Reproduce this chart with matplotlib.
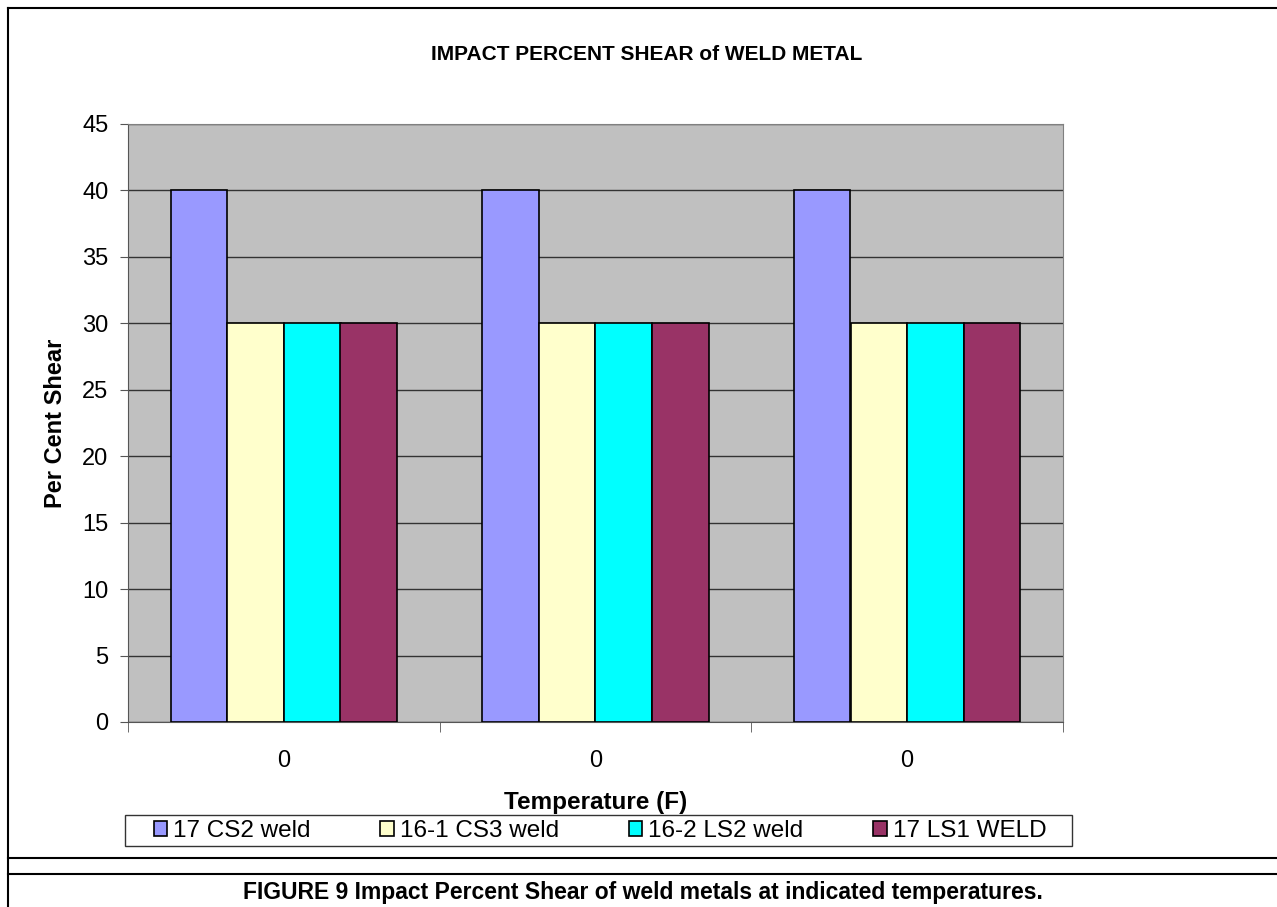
import numpy as np
import matplotlib
matplotlib.use("Agg")
import matplotlib.pyplot as plt
from matplotlib.lines import Line2D
from matplotlib.patches import Rectangle

plt.rcParams['font.family'] = ['Liberation Sans', 'DejaVu Sans']

# data
categories = ["0", "0", "0"]
series_names = ["17 CS2 weld", "16-1 CS3 weld", "16-2 LS2 weld", "17 LS1 WELD"]
cs2_17 = [40, 40, 40]
cs3_16_1 = [30, 30, 30]
ls2_16_2 = [30, 30, 30]
ls1_17 = [30, 30, 30]
colors = ["#9999FF", "#FFFFCC", "#00FFFF", "#993366"]

W, H = 1277, 907
fig = plt.figure(figsize=(W / 100, H / 100), dpi=100)

# outer frame / caption rules
fig.add_artist(Line2D([8 / W, 1], [1 - 8 / H, 1 - 8 / H], color='black', lw=1.5))
fig.add_artist(Line2D([8 / W, 8 / W], [0, 1 - 8 / H], color='black', lw=1.5))
fig.add_artist(Line2D([8 / W, 1], [1 - 858 / H, 1 - 858 / H], color='black', lw=1.5))
fig.add_artist(Line2D([8 / W, 1], [1 - 874 / H, 1 - 874 / H], color='black', lw=1.5))

ax = fig.add_axes([128 / W, (H - 722) / H, 935 / W, 598 / H])
ax.set_facecolor('#C0C0C0')

n = len(series_names)
bw = 1 / (n + 1.5)
x = np.arange(len(categories))
all_series = [cs2_17, cs3_16_1, ls2_16_2, ls1_17]
for i, vals in enumerate(all_series):
    ax.bar(x + (i - (n - 1) / 2) * bw, vals, width=bw, color=colors[i],
           edgecolor='black', linewidth=1.2, label=series_names[i], zorder=3)

ax.set_xlim(-0.5, len(categories) - 0.5)
ax.set_ylim(0, 45)
ax.set_yticks(np.arange(0, 46, 5))
ax.yaxis.grid(True, color='#333333', lw=1, zorder=0)
ax.set_axisbelow(True)

ax.set_xticks(x)
ax.set_xticklabels(categories, fontsize=17)
ax.tick_params(axis='x', length=0, pad=20)
ax.set_xticks(np.arange(-0.5, len(categories), 1), minor=True)
ax.tick_params(axis='x', which='minor', length=7, color='#555555')
ax.tick_params(axis='y', labelsize=17, length=6, color='#555555', pad=8)

for side in ['top', 'right']:
    ax.spines[side].set_color('#808080')
ax.spines['left'].set_color('#555555')
ax.spines['bottom'].set_color('#555555')

ax.set_ylabel("Per Cent Shear", fontsize=17, fontweight='bold', labelpad=11)
fig.text(596 / W, 1 - 802 / H, "Temperature (F)", ha='center', va='center',
         fontsize=17.5, fontweight='bold')

fig.text(647 / W, 1 - 55 / H, "IMPACT PERCENT SHEAR of WELD METAL",
         ha='center', va='center', fontsize=15, fontweight='bold')

# legend frame + legend spread across it
fig.add_artist(Rectangle((125 / W, 1 - 846 / H), 947 / W, 31 / H,
                         transform=fig.transFigure, fill=False,
                         edgecolor='#333333', lw=1))
leg = fig.legend(loc='lower left', bbox_to_anchor=(150 / W, 1 - 846 / H, 900 / W, 31 / H),
                 ncol=4, mode='expand', fontsize=17.5, frameon=False,
                 handlelength=0.55, handleheight=0.55, handletextpad=0.25,
                 borderpad=0.15, borderaxespad=0)

fig.text(643 / W, 1 - 893 / H,
         "FIGURE 9 Impact Percent Shear of weld metals at indicated temperatures.",
         ha='center', va='center', fontsize=16.5, fontweight='bold')

plt.savefig('out.png', dpi=100)
